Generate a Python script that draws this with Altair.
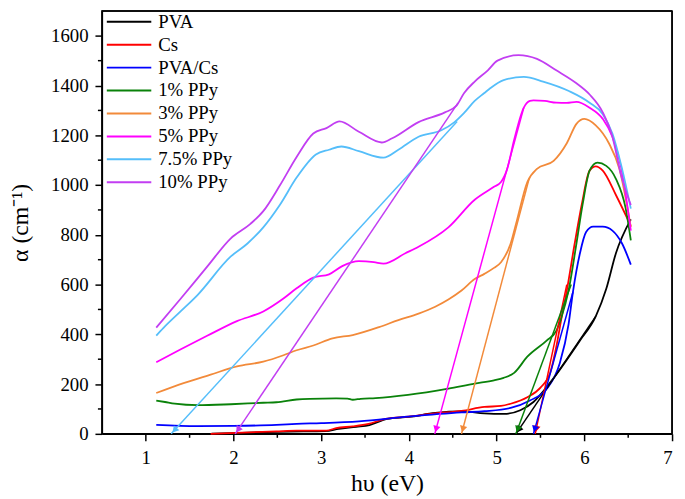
import math
import altair as alt
import pandas as pd

NAMES = ["PVA", "Cs", "PVA/Cs", "1% PPy", "3% PPy", "5% PPy", "7.5% PPy", "10% PPy"]
COLORS = ["#000000", "#FF0000", "#0000FF", "#0A820A", "#F28A3A", "#FF00FF", "#55BEFA", "#C23EF2"]

# ---- curves (hv in eV, alpha in cm^-1) ----
pva_x = [1.75, 2.1, 2.5, 2.8, 3.05, 3.2, 3.4, 3.55, 3.68, 3.75, 4.0, 4.3, 4.6, 4.86, 5.08, 5.27, 5.42, 5.61, 5.95, 6.13, 6.25, 6.36, 6.53]
pva_y = [1, 4, 8, 10, 11, 20, 28, 35, 52, 60, 68, 84, 90, 82, 80, 95, 128, 206, 375, 472, 583, 726, 862]

cs_x = [1.74, 2.1, 2.49, 2.72, 3.06, 3.17, 3.36, 3.54, 3.73, 3.99, 4.30, 4.60, 4.86, 5.05, 5.16, 5.35, 5.50, 5.61, 5.68, 5.74, 5.80, 5.89, 5.97, 6.06, 6.13, 6.21, 6.36, 6.53]
cs_y = [0, 5, 10, 13, 13, 23, 30, 40, 60, 69, 82, 92, 108, 112, 121, 147, 186, 245, 349, 466, 576, 765, 921, 1058, 1075, 1058, 960, 836]

pvacs_x = [1.12, 1.59, 2.0, 2.49, 2.72, 3.0, 3.43, 3.99, 4.60, 4.86, 5.16, 5.38, 5.57, 5.72, 5.82, 5.87, 5.95, 6.02, 6.10, 6.21, 6.32, 6.43, 6.53]
pvacs_y = [36, 31, 32, 36, 40, 43, 50, 69, 86, 91, 104, 134, 180, 284, 440, 570, 726, 811, 833, 833, 817, 765, 680]

p1_x = [1.12, 1.22, 1.33, 1.59, 1.97, 2.34, 2.49, 2.72, 2.87, 3.17, 3.30, 3.36, 3.45, 3.62, 3.99, 4.45, 4.75, 4.97, 5.08, 5.20, 5.35, 5.57, 5.68, 5.74, 5.82, 5.91, 5.98, 6.06, 6.15, 6.25, 6.36, 6.47, 6.53]
p1_y = [134, 128, 121, 115, 119, 125, 127, 138, 141, 143, 142, 137, 141, 144, 157, 182, 202, 215, 225, 245, 310, 375, 414, 470, 576, 765, 921, 1058, 1090, 1077, 1025, 908, 778]

p3_x = [1.12, 1.44, 1.74, 2.04, 2.34, 2.57, 2.72, 2.91, 3.13, 3.36, 3.66, 3.88, 4.11, 4.30, 4.45, 4.60, 4.75, 4.86, 4.97, 5.05, 5.16, 5.23, 5.35, 5.46, 5.65, 5.80, 5.91, 6.00, 6.13, 6.28, 6.40, 6.53]
p3_y = [164, 205, 238, 271, 290, 316, 336, 355, 384, 397, 429, 457, 483, 511, 540, 576, 622, 643, 667, 690, 765, 856, 1012, 1065, 1097, 1168, 1246, 1266, 1240, 1168, 1064, 831]

p5_x = [1.12, 1.40, 1.70, 2.04, 2.34, 2.57, 2.72, 2.91, 3.09, 3.24, 3.43, 3.60, 3.71, 3.96, 4.11, 4.45, 4.75, 4.97, 5.05, 5.12, 5.20, 5.31, 5.38, 5.42, 5.55, 5.68, 5.80, 5.91, 6.06, 6.21, 6.32, 6.42, 6.53]
p5_y = [288, 340, 394, 453, 492, 544, 585, 628, 641, 674, 694, 690, 684, 726, 752, 830, 941, 993, 1012, 1064, 1182, 1311, 1338, 1340, 1338, 1331, 1330, 1334, 1311, 1266, 1194, 1070, 817]

p75_x = [1.12, 1.20, 1.40, 1.59, 1.97, 2.16, 2.34, 2.53, 2.72, 2.94, 3.09, 3.23, 3.43, 3.71, 3.88, 4.11, 4.37, 4.52, 4.63, 4.75, 4.86, 4.93, 5.08, 5.31, 5.53, 5.83, 6.06, 6.21, 6.32, 6.42, 6.53]
p75_y = [395, 425, 493, 558, 713, 765, 830, 921, 1030, 1123, 1142, 1155, 1136, 1110, 1142, 1194, 1220, 1253, 1290, 1338, 1370, 1390, 1422, 1435, 1416, 1377, 1331, 1285, 1207, 1080, 905]

p10_x = [1.12, 1.40, 1.705, 1.967, 2.19, 2.34, 2.53, 2.72, 2.91, 3.06, 3.21, 3.43, 3.69, 3.81, 4.11, 4.41, 4.54, 4.63, 4.75, 4.90, 5.01, 5.25, 5.46, 5.68, 5.91, 6.06, 6.21, 6.32, 6.42, 6.53]
p10_y = [427, 544, 674, 785, 843, 895, 999, 1113, 1207, 1229, 1256, 1214, 1171, 1188, 1253, 1292, 1318, 1370, 1416, 1461, 1500, 1522, 1507, 1461, 1409, 1364, 1292, 1194, 1038, 920]

SERIES_X = [pva_x, cs_x, pvacs_x, p1_x, p3_x, p5_x, p75_x, p10_x]
SERIES_Y = [pva_y, cs_y, pvacs_y, p1_y, p3_y, p5_y, p75_y, p10_y]

# ---- tangent (band-gap extrapolation) lines: tip on the axis, upper end ----
tan_x0 = [5.22, 5.44, 5.42, 5.22, 4.60, 4.295, 1.29, 2.02]
tan_x1 = [6.13, 5.80, 5.87, 5.85, 5.37, 5.31, 4.55, 4.56]
tan_y1 = [472, 600, 570, 600, 1025, 1311, 1255, 1330]

Y_TICKS = [0, 200, 400, 600, 800, 1000, 1200, 1400, 1600]
Y_MINOR = [100, 300, 500, 700, 900, 1100, 1300, 1500]
X_TICKS = [1, 2, 3, 4, 5, 6, 7]
X_MINOR = [1.5, 2.5, 3.5, 4.5, 5.5, 6.5]

XMIN, XMAX, YMIN, YMAX = 0.5, 7.0, 0, 1700
W, H = 577, 428
PX_X = W / (XMAX - XMIN)
PX_Y = H / (YMAX - YMIN)

rows = []
for n, xs, ys in zip(NAMES, SERIES_X, SERIES_Y):
    for i, (a, b) in enumerate(zip(xs, ys)):
        rows.append({"series": n, "x": a, "y": b, "i": i})
curves = pd.DataFrame(rows)

trows, arows = [], []
for n, x0, x1, y1 in zip(NAMES, tan_x0, tan_x1, tan_y1):
    trows.append({"series": n, "x": x0, "y": 0, "i": 0})
    trows.append({"series": n, "x": x1, "y": y1, "i": 1})
    dxp, dyp = (x1 - x0) * PX_X, y1 * PX_Y
    L = math.hypot(dxp, dyp)
    ux, uy = dxp / L, dyp / L
    d = 5.0
    arows.append({"series": n, "x": x0 + d * ux / PX_X, "y": d * uy / PX_Y,
                  "ang": math.degrees(math.atan2(ux, uy))})
tangents = pd.DataFrame(trows)
arrows = pd.DataFrame(arows)

XS = alt.Scale(domain=[XMIN, XMAX], nice=False, zero=False)
YS = alt.Scale(domain=[YMIN, YMAX], nice=False, zero=False)
CS = alt.Scale(domain=NAMES, range=COLORS)
FONT = "Liberation Serif"
AX_STYLE = dict(labelFont=FONT, labelFontSize=19, labelColor="black", titleFont=FONT,
                titleColor="black", titleFontWeight="normal", titleFontSize=24,
                labelFontWeight="normal",
                domainColor="black", domainWidth=1.5, tickColor="black", tickWidth=1.5,
                tickSize=7, grid=False, format="d")
X_AXIS = alt.Axis(values=X_TICKS, title="hυ (eV)", titlePadding=4, labelPadding=8, **AX_STYLE)
Y_AXIS = alt.Axis(values=Y_TICKS, title="α (cm⁻¹)", titlePadding=18, labelPadding=7, **AX_STYLE)

color = alt.Color("series:N", scale=CS, legend=None)

curve_layer = alt.Chart(curves).mark_line(strokeWidth=1.8, interpolate="monotone").encode(
    x=alt.X("x:Q", scale=XS, axis=X_AXIS),
    y=alt.Y("y:Q", scale=YS, axis=Y_AXIS),
    color=color,
    order="i:Q",
)

tangent_layer = alt.Chart(tangents).mark_line(strokeWidth=1.5).encode(
    x=alt.X("x:Q", scale=XS, axis=X_AXIS),
    y=alt.Y("y:Q", scale=YS, axis=None),
    color=color,
    order="i:Q",
)

arrow_layer = alt.Chart(arrows).mark_point(shape="triangle-down", filled=True, size=55, opacity=1).encode(
    x=alt.X("x:Q", scale=XS, axis=X_AXIS),
    y=alt.Y("y:Q", scale=YS, axis=None),
    color=color,
    angle=alt.Angle("ang:Q", scale=None),
)

ymin_layer = alt.Chart(pd.DataFrame({"v": Y_MINOR})).mark_rule(color="black", strokeWidth=1.5).encode(
    y=alt.Y("v:Q", scale=YS, axis=None),
    x=alt.value(0), x2=alt.value(-4),
)
xmin_layer = alt.Chart(pd.DataFrame({"v": X_MINOR})).mark_rule(color="black", strokeWidth=1.5).encode(
    x=alt.X("v:Q", scale=XS, axis=X_AXIS),
    y=alt.value(H), y2=alt.value(H + 4),
)

# frame (top and right edges)
frame_top = alt.Chart(pd.DataFrame({"k": [0]})).mark_rule(color="black", strokeWidth=1.5).encode(
    x=alt.value(0), x2=alt.value(W), y=alt.value(0))
frame_right = alt.Chart(pd.DataFrame({"k": [0]})).mark_rule(color="black", strokeWidth=1.5).encode(
    x=alt.value(W), y=alt.value(0), y2=alt.value(H))

LEG_Y0, LEG_DY = 11, 23.2
leg = pd.DataFrame({"series": NAMES, "idx": list(range(len(NAMES)))})
LS = alt.Scale(domain=[0, len(NAMES) - 1], range=[LEG_Y0, LEG_Y0 + (len(NAMES) - 1) * LEG_DY])
leg_rule = alt.Chart(leg).mark_rule(strokeWidth=2).encode(
    x=alt.value(5), x2=alt.value(50),
    y=alt.Y("idx:Q", scale=LS, axis=None),
    color=color,
)
leg_text = alt.Chart(leg).mark_text(align="left", baseline="middle", font=FONT, fontSize=19,
                                    color="black").encode(
    x=alt.value(57),
    y=alt.Y("idx:Q", scale=LS, axis=None),
    text="series:N",
)

chart = alt.layer(
    curve_layer, tangent_layer, arrow_layer, ymin_layer, xmin_layer,
    frame_top, frame_right, leg_rule, leg_text
).resolve_scale(y="independent").properties(
    width=W, height=H,
    autosize=alt.AutoSizeParams(type="none"),
    padding={"left": 95, "top": 0, "right": 5, "bottom": 63},
).configure(
    font=FONT
).configure_view(
    stroke="black", strokeWidth=1.5
).configure_axis(
    labelFont=FONT, titleFont=FONT, labelFontWeight="normal"
)

chart.save("out.html", embed_options={"renderer": "svg", "actions": False})
